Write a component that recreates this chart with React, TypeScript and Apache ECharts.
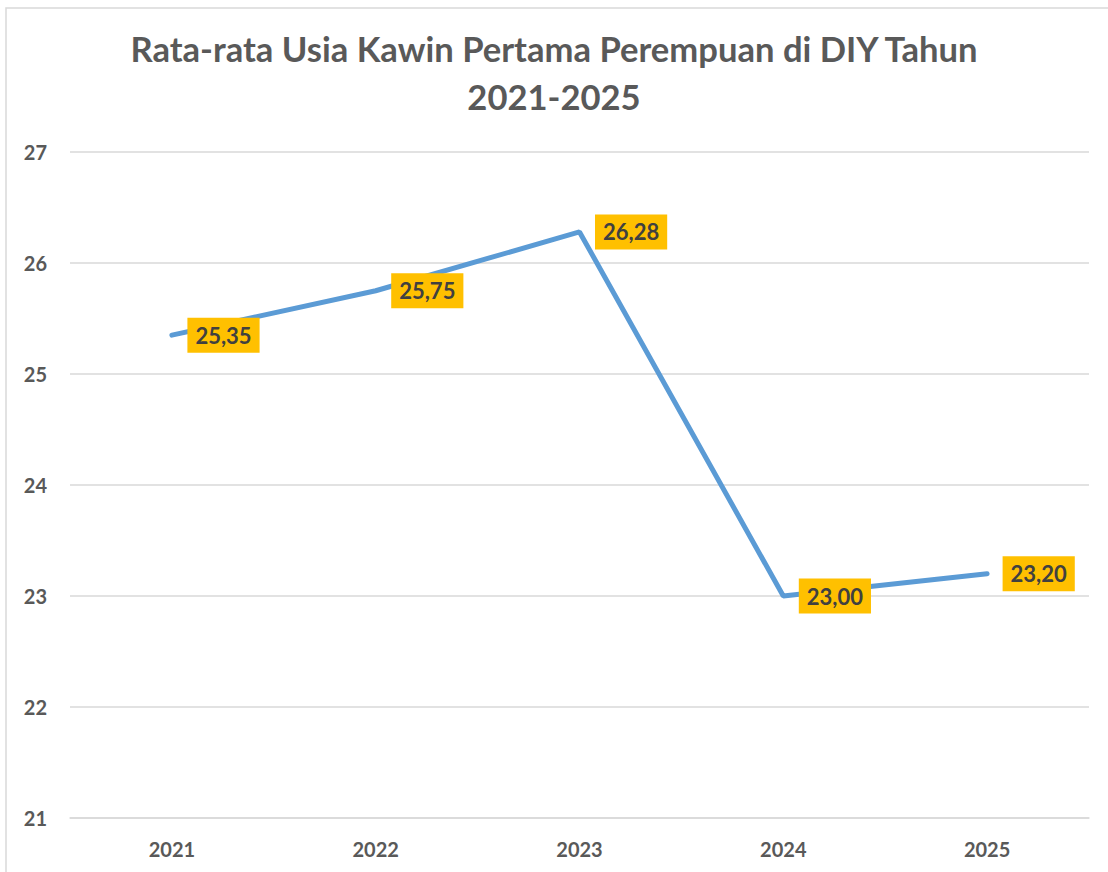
import React, { useEffect, useRef } from "react";
import * as echarts from "echarts";

const categories = ["2021", "2022", "2023", "2024", "2025"];
const values = [25.35, 25.75, 26.28, 23.0, 23.2];
const titleLines = ["Rata-rata Usia Kawin Pertama Perempuan di DIY Tahun", "2021-2025"];

export default function App() {
  const ref = useRef<HTMLDivElement>(null);
  useEffect(() => {
    const chart = echarts.init(ref.current!, null, { renderer: "svg" });
    chart.setOption({
      animation: false,
      backgroundColor: "#ffffff",
      title: {
        text: titleLines.join("\n"),
        left: "center",
        top: 19,
        textStyle: {
          fontFamily: "Lato",
          fontWeight: "bold",
          fontSize: 34.6,
          lineHeight: 48,
          color: "#595959",
        },
      },
      graphic: [
        {
          type: "rect",
          shape: { x: 6, y: 8, width: 1200, height: 1000 },
          style: { fill: "none", stroke: "#d9d9d9", lineWidth: 1.5 },
          silent: true,
        },
      ],
      grid: { left: 70, right: 19, top: 152, bottom: 54 },
      xAxis: {
        type: "category",
        data: categories,
        boundaryGap: true,
        axisLine: { show: true, lineStyle: { color: "#d9d9d9", width: 1.5 } },
        axisTick: { show: false },
        axisLabel: {
          margin: 21,
          fontFamily: "Lato",
          fontWeight: "bold",
          fontSize: 20,
          color: "#595959",
        },
      },
      yAxis: {
        type: "value",
        min: 21,
        max: 27,
        interval: 1,
        axisLine: { show: false },
        axisTick: { show: false },
        splitLine: { lineStyle: { color: "#d9d9d9", width: 1.5 } },
        axisLabel: {
          margin: 23,
          fontFamily: "Lato",
          fontWeight: "bold",
          fontSize: 20,
          color: "#595959",
        },
      },
      series: [
        {
          type: "line",
          data: values,
          symbol: "circle",
          symbolSize: 1,
          itemStyle: { color: "rgba(0,0,0,0)" },
          lineStyle: { color: "#5B9BD5", width: 5, cap: "round" },
          label: {
            show: true,
            position: "right",
            distance: 15,
            formatter: (p: any) => p.value.toFixed(2).replace(".", ","),
            backgroundColor: "#FFC000",
            color: "#404040",
            fontFamily: "Lato",
            fontWeight: "bold",
            fontSize: 22,
            padding: [7, 8, 6, 8],
          },
        },
      ],
    });
    return () => chart.dispose();
  }, []);
  return (
    <div
      ref={ref}
      style={{ position: "fixed", left: 0, top: 0, width: 1108, height: 872 }}
    />
  );
}
